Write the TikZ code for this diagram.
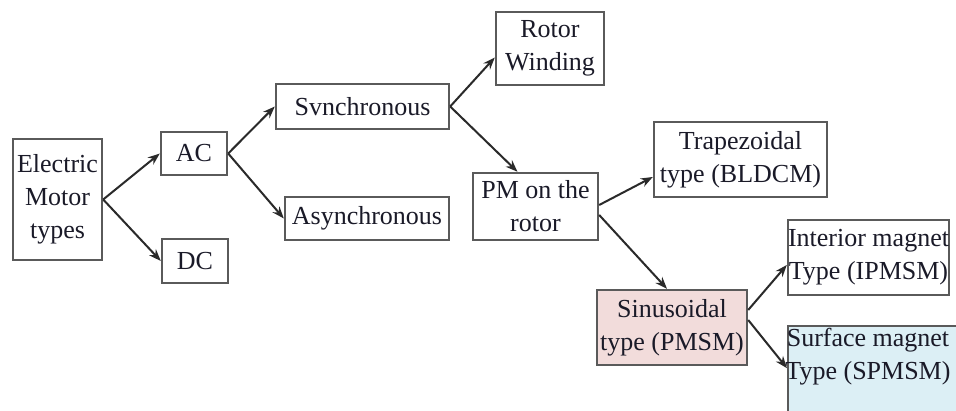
\documentclass[tikz,border=0pt]{standalone}
\usepackage{fontspec}
\setmainfont{Liberation Serif}
\usetikzlibrary{arrows.meta,calc}
\definecolor{txt}{HTML}{1A1A28}
\definecolor{bord}{HTML}{5A5A5A}
\definecolor{pinkfill}{HTML}{F2DCDB}
\definecolor{bluefill}{HTML}{DCEFF5}
\definecolor{arr}{HTML}{2A2A2A}
\begin{document}
\begin{tikzpicture}[x=1pt,y=1pt,
  box/.style={draw=bord, line width=2.4pt, fill=white, inner sep=0pt, align=center,
    text=txt, font=\fontsize{26}{33}\selectfont},
  plain/.style={inner sep=0pt, align=center, text=txt, font=\fontsize{26}{33}\selectfont},
  conn/.style={draw=arr, line width=2pt, -{Stealth[length=12pt,width=9pt]}}]
\useasboundingbox (0,0) rectangle (956,411);
\fill[white] (0,0) rectangle (956,411);

\node[box, minimum width=89, minimum height=121] (emt) at (57.5,211.5) {Electric\\Motor\\types};
\node[box, minimum width=66, minimum height=43] (ac) at (194,257.5) {AC};
\node[box, minimum width=66, minimum height=44] (dc) at (195,150) {DC};
\node[box, minimum width=173, minimum height=45] (syn) at (362.5,304.5) {Svnchronous};
\node[box, minimum width=164, minimum height=43] (asyn) at (367,192.5) {Asynchronous};
\node[box, minimum width=108, minimum height=73] (rw) at (550,362.5) {Rotor\\Winding};
\node[box, minimum width=125, minimum height=67] (pm) at (535.5,204.5) {PM on the\\rotor};
\node[box, minimum width=173, minimum height=75] (trap) at (740.5,251.5) {Trapezoidal\\type (BLDCM)};
\node[box, fill=pinkfill, minimum width=150, minimum height=75] (sin) at (672,83.5) {Sinusoidal\\type (PMSM)};
\node[box, minimum width=161, minimum height=75] (ipm) at (868.5,153.5) {Interior magnet\\Type (IPMSM)};
\node[box, fill=bluefill, minimum width=185, minimum height=90, anchor=north west] (spm) at (787,86) {};
\node[plain] (spmtext) at (868,54) {Surface magnet\\Type (SPMSM)};

\draw[conn] (emt.east) -- (ac.west);
\draw[conn] (emt.east) -- (dc.west);
\draw[conn] (ac.east) -- (syn.west);
\draw[conn] (ac.east) -- (asyn.west);
\draw[conn] (syn.east) -- ($(rw.west)+(0,-9)$);
\draw[conn] (syn.east) -- ($(pm.north)+(-18,0)$);
\draw[conn] ($(pm.east)+(0,1.5)$) -- ($(trap.west)+(0,-17.5)$);
\draw[conn] ($(pm.east)+(0,-8.5)$) -- ($(sin.north)+(-5,0)$);
\draw[conn] ($(sin.east)+(0,17.5)$) -- ($(ipm.west)+(0,-7.5)$);
\draw[conn] ($(sin.east)+(0,7.5)$) -- ($(spm.west)+(0,3)$);
\end{tikzpicture}
\end{document}
